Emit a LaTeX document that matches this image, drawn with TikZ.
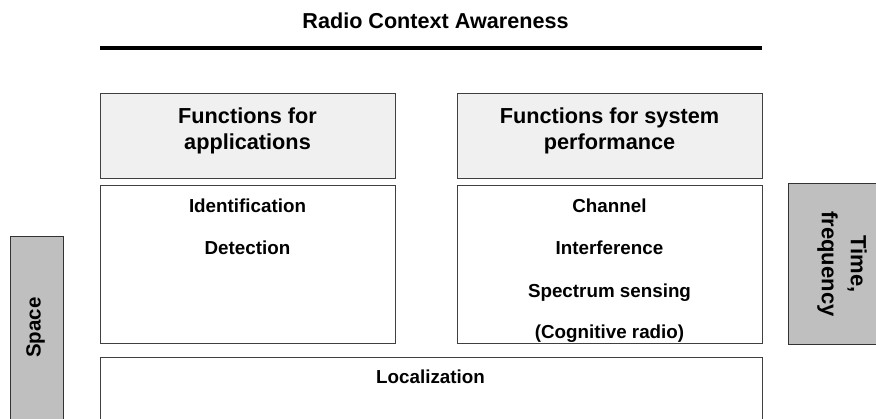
\documentclass[tikz,border=0pt]{standalone}
\usepackage{fontspec}
\setmainfont{Liberation Sans}
\begin{document}
\begin{tikzpicture}[x=1pt,y=-1pt,
  hdr/.style={draw=black!75,line width=0.8pt,fill=black!6},
  body/.style={draw=black!75,line width=0.8pt,fill=white},
  side/.style={draw=black!80,line width=0.8pt,fill=black!25},
  lbl/.style={font=\bfseries\fontsize{18.8}{22}\selectfont,inner sep=0pt,anchor=base},
  hlbl/.style={font=\bfseries\fontsize{21.7}{26}\selectfont,inner sep=0pt,anchor=base}]
\useasboundingbox (0,0) rectangle (876,418);
\clip (0,0) rectangle (876,418);
\node[font=\bfseries\fontsize{21.6}{24}\selectfont,inner sep=0pt,anchor=base] (title) at (435.5,28) {Radio Context Awareness};
\coordinate (lineL) at (100,48);
\coordinate (lineR) at (762,48);
\draw[line width=4pt] (lineL) -- (lineR);
% headers
\draw[hdr] (100,93) rectangle (395,178);
\node[hlbl] (h1a) at (247.5,123) {Functions for};
\node[hlbl] (h1b) at (247.5,149) {applications};
\draw[hdr] (457,93) rectangle (762,178);
\node[hlbl] (h2a) at (609.5,123) {Functions for system};
\node[hlbl] (h2b) at (609.5,149) {performance};
% bodies
\draw[body] (100,185) rectangle (395,343);
\node[lbl] (id) at (247.5,212) {Identification};
\node[lbl] (det) at (247.5,254) {Detection};
\draw[body] (457,185) rectangle (762,343);
\node[lbl] (ch) at (609.5,212) {Channel};
\node[lbl] (intf) at (609.5,254) {Interference};
\node[lbl] (spec) at (609.5,297) {Spectrum sensing};
\node[lbl] (cog) at (609.5,338) {(Cognitive radio)};
% localization
\draw[body] (100,357) rectangle (762,430);
\node[lbl] (loc) at (430.5,383) {Localization};
% side boxes
\draw[side] (10,236) rectangle (63,430);
\node[font=\bfseries\fontsize{20.5}{24}\selectfont,inner sep=0pt,rotate=90] (space) at (35.5,327.5) {Space};
\draw[side] (788,183) rectangle (880,344);
\node[inner sep=0pt,rotate=-90,align=center,font=\bfseries\fontsize{22}{29}\selectfont] (tf) at (842,264) {Time,\\frequency};
\end{tikzpicture}
\end{document}
